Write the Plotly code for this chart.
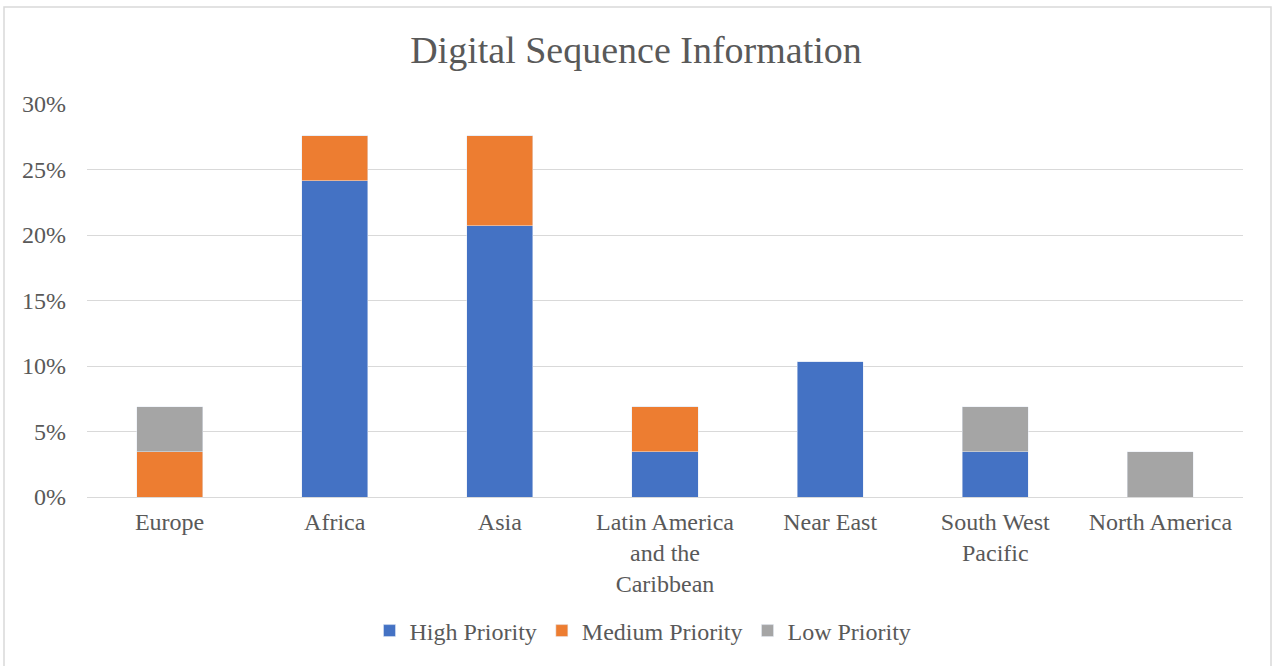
import plotly.graph_objects as go

categories = ["Europe", "Africa", "Asia", "Latin America and the Caribbean",
              "Near East", "South West Pacific", "North America"]
tick_labels = ["Europe", "Africa", "Asia", "Latin America<br>and the<br>Caribbean",
               "Near East", "South West<br>Pacific", "North America"]
high = [0.0, 0.2414, 0.2069, 0.0345, 0.1034, 0.0345, 0.0]
medium = [0.0345, 0.0345, 0.0690, 0.0345, 0.0, 0.0, 0.0]
low = [0.0345, 0.0, 0.0, 0.0, 0.0, 0.0345, 0.0345]

FONT = "Liberation Serif, Times New Roman, serif"
TXT = "#595959"

fig = go.Figure()
fig.add_bar(x=categories, y=high, name="High Priority", marker_color="#4472C4")
fig.add_bar(x=categories, y=medium, name="Medium Priority", marker_color="#ED7D31")
fig.add_bar(x=categories, y=low, name="Low Priority", marker_color="#A5A5A5")

L, R, T, B = 87, 29, 104, 169
PW = 1272 - L - R
PH = 666 - T - B

fig.update_layout(
    barmode="stack",
    bargap=0.6,
    width=1272, height=666,
    margin=dict(l=L, r=R, t=T, b=B),
    paper_bgcolor="white", plot_bgcolor="white",
    font=dict(family=FONT, color=TXT, size=24),
    title=dict(text="Digital Sequence Information", x=0.5, xanchor="center",
               y=1 - 50 / 666, yanchor="middle",
               font=dict(family=FONT, size=38, color=TXT)),
    legend=dict(orientation="h", x=(643 - L) / PW, xanchor="center",
                y=(497 - 631) / PH, yanchor="middle",
                font=dict(family=FONT, size=24, color=TXT),
                itemwidth=30, traceorder="normal"),
    showlegend=True,
)
fig.update_xaxes(tickvals=categories, ticktext=tick_labels, showgrid=False,
                 showline=True, linecolor="#d9d9d9", linewidth=1, ticks="",
                 ticklabelstandoff=3,
                 tickfont=dict(family=FONT, size=24, color=TXT))
fig.update_yaxes(range=[0, 0.30], dtick=0.05, tickformat=".0%", showgrid=True,
                 gridcolor="#d9d9d9", gridwidth=1, zeroline=False, ticks="",
                 ticklabelstandoff=20,
                 tickfont=dict(family=FONT, size=24, color=TXT))

fig.add_shape(type="rect", xref="paper", yref="paper",
              x0=(4 - L) / PW, x1=(1271 - L) / PW,
              y0=(497 - 690) / PH, y1=(497 - 7) / PH,
              line=dict(color="#d9d9d9", width=1.5), fillcolor="rgba(0,0,0,0)",
              layer="below")

fig.write_html("out.html", config={"displayModeBar": False},
               post_script="document.body.style.margin='0px';document.body.style.overflow='hidden';")
